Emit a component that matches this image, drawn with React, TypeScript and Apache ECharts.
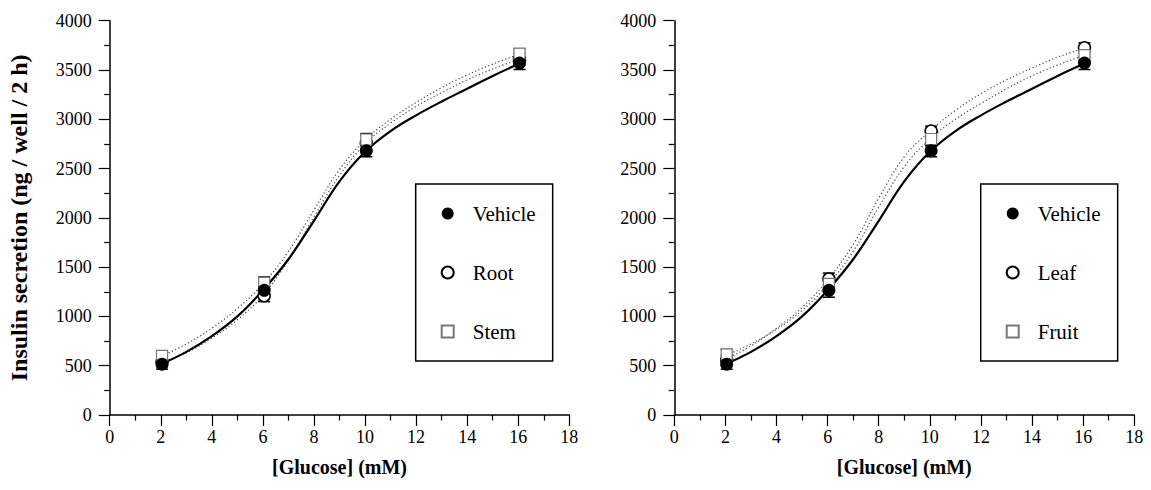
import React, { useEffect, useRef } from "react";
import * as echarts from "echarts";

// Measured glucose concentrations (mM)
const doseX = [2.05, 6.05, 10.05, 16.05];

// Mean insulin secretion (ng / well / 2 h)
const vehicle = [515, 1265, 2680, 3570];
const root = [540, 1210, 2760, 3610];
const stem = [600, 1340, 2795, 3665];
const leaf = [560, 1380, 2880, 3725];
const fruit = [615, 1330, 2800, 3650];

// SEM
const vehicleErr = [50, 70, 60, 65];
const rootErr = [50, 60, 80, 60];
const stemErr = [40, 60, 60, 50];
const leafErr = [50, 60, 50, 50];
const fruitErr = [50, 50, 70, 60];

// Fitted curves
const curveX = [2.05, 3, 4, 5, 6, 7, 8, 9, 10, 11, 12, 13, 14, 15, 16.05];
const vehicleFit = [520, 640, 800, 1000, 1265, 1580, 1970, 2370, 2670, 2880, 3040, 3180, 3310, 3440, 3565];
const rootFit = [540, 630, 780, 965, 1215, 1570, 2010, 2430, 2750, 2960, 3130, 3270, 3400, 3510, 3610];
const stemFit = [600, 720, 880, 1080, 1330, 1660, 2080, 2490, 2790, 3000, 3170, 3320, 3450, 3560, 3660];
const leafFit = [570, 700, 880, 1090, 1370, 1730, 2200, 2620, 2880, 3090, 3260, 3400, 3520, 3630, 3720];
const fruitFit = [610, 720, 870, 1060, 1320, 1660, 2110, 2520, 2800, 3000, 3160, 3310, 3440, 3550, 3650];

// Axis ticks
const xMin = 0, xMax = 18, xStep = 2;
const yMin = 0, yMax = 4000, yStep = 500;

const FONT = "Liberation Serif";

const pairs = (xs: number[], ys: number[]) => xs.map((x, i) => [x, ys[i]]);
const errs = (xs: number[], ys: number[], es: number[]) =>
  xs.map((x, i) => [x, ys[i] - es[i], ys[i] + es[i]]);

const solidStyle = { color: "#000", width: 2.2, type: "solid" as const };
const dotStyle = { color: "#444", width: 1.2, type: [1.2, 2.4] as any };

const markerStyles: Record<string, any> = {
  filled: { symbol: "circle", symbolSize: 13, itemStyle: { color: "#000", borderColor: "#000", borderWidth: 0, opacity: 1 } },
  open: { symbol: "circle", symbolSize: 12, itemStyle: { color: "#fff", borderColor: "#000", borderWidth: 1.5, opacity: 1 } },
  square: { symbol: "rect", symbolSize: 11, itemStyle: { color: "#fff", borderColor: "#777", borderWidth: 1.2, opacity: 1 } },
};

function App() {
  const ref = useRef<HTMLDivElement>(null);
  useEffect(() => {
    if (!ref.current) return;
    const chart = echarts.init(ref.current, null, { renderer: "svg" });

    const fitSeries = (name: string, ys: number[], idx: number, style: any) => ({
      type: "line",
      name,
      xAxisIndex: idx,
      yAxisIndex: idx,
      data: pairs(curveX, ys),
      smooth: 0.4,
      showSymbol: false,
      symbol: "none",
      lineStyle: style,
      z: 1,
      silent: true,
    });

    const errSeries = (ys: number[], es: number[], idx: number) => ({
      type: "custom",
      xAxisIndex: idx,
      yAxisIndex: idx,
      data: errs(doseX, ys, es),
      z: 2,
      silent: true,
      renderItem: (params: any, api: any) => {
        const x = api.value(0);
        const lo = api.coord([x, api.value(1)]);
        const hi = api.coord([x, api.value(2)]);
        const w = 6;
        const st = { stroke: "#000", lineWidth: 1.5 };
        return {
          type: "group",
          children: [
            { type: "line", shape: { x1: lo[0], y1: lo[1], x2: hi[0], y2: hi[1] }, style: st },
            { type: "line", shape: { x1: lo[0] - w, y1: lo[1], x2: lo[0] + w, y2: lo[1] }, style: st },
            { type: "line", shape: { x1: hi[0] - w, y1: hi[1], x2: hi[0] + w, y2: hi[1] }, style: st },
          ],
        };
      },
    });

    const pointSeries = (name: string, ys: number[], idx: number, kind: string, z: number) => ({
      type: "scatter",
      name,
      xAxisIndex: idx,
      yAxisIndex: idx,
      data: pairs(doseX, ys),
      ...markerStyles[kind],
      z,
    });

    const xAxis = (gridIndex: number) => ({
      type: "value",
      gridIndex,
      min: xMin,
      max: xMax,
      interval: xStep,
      name: "[Glucose] (mM)",
      nameLocation: "middle",
      nameGap: 42,
      nameTextStyle: { fontFamily: FONT, fontSize: 20, fontWeight: "bold", color: "#000" },
      axisLine: { show: true, onZero: false, lineStyle: { color: "#000", width: 1.5 } },
      axisTick: { show: true, inside: false, length: 11, lineStyle: { color: "#000", width: 1.2 } },
      minorTick: { show: true, splitNumber: 2, length: 5.5, lineStyle: { color: "#000", width: 1.2 } },
      axisLabel: { fontFamily: FONT, fontSize: 18, color: "#000", margin: 13, formatter: (v: number) => String(v) },
      splitLine: { show: false },
    });

    const yAxis = (gridIndex: number, withName: boolean) => ({
      type: "value",
      gridIndex,
      min: yMin,
      max: yMax,
      interval: yStep,
      name: withName ? "Insulin secretion (ng / well / 2 h)" : "",
      nameLocation: "middle",
      nameGap: 79,
      nameTextStyle: { fontFamily: FONT, fontSize: 24, fontWeight: "bold", color: "#000" },
      axisLine: { show: true, onZero: false, lineStyle: { color: "#000", width: 1.5 } },
      axisTick: { show: true, inside: false, length: 11, lineStyle: { color: "#000", width: 1.2 } },
      minorTick: { show: true, splitNumber: 2, length: 5.5, lineStyle: { color: "#000", width: 1.2 } },
      axisLabel: { fontFamily: FONT, fontSize: 18, color: "#000", margin: 18, formatter: (v: number) => String(v) },
      splitLine: { show: false },
    });

    const legend = (left: number, names: string[]) => ({
      orient: "vertical",
      left,
      top: 184,
      data: names,
      itemWidth: 12,
      itemHeight: 12,
      itemGap: 38,
      padding: [19, 17, 19, 25],
      borderColor: "#000",
      borderWidth: 1.5,
      borderRadius: 0,
      backgroundColor: "#fff",
      selectedMode: false,
      textStyle: { fontFamily: FONT, fontSize: 21, color: "#000", lineHeight: 21, padding: [0, 0, 0, 14] },
    });

    chart.setOption({
      animation: false,
      backgroundColor: "#fff",
      textStyle: { fontFamily: FONT },
      grid: [
        { left: 109.7, top: 20.7, width: 459.6, height: 394.3 },
        { left: 674.3, top: 20.7, width: 460, height: 394.3 },
      ],
      xAxis: [xAxis(0), xAxis(1)],
      yAxis: [yAxis(0, true), yAxis(1, false)],
      legend: [legend(415.7, ["Vehicle", "Root", "Stem"]), legend(980.7, ["Vehicle", "Leaf", "Fruit"])],
      series: [
        fitSeries("Root fit", rootFit, 0, dotStyle),
        fitSeries("Stem fit", stemFit, 0, dotStyle),
        fitSeries("Vehicle fit", vehicleFit, 0, solidStyle),
        errSeries(root, rootErr, 0),
        errSeries(stem, stemErr, 0),
        errSeries(vehicle, vehicleErr, 0),
        pointSeries("Root", root, 0, "open", 3),
        pointSeries("Stem", stem, 0, "square", 3),
        pointSeries("Vehicle", vehicle, 0, "filled", 4),

        fitSeries("Leaf fit", leafFit, 1, dotStyle),
        fitSeries("Fruit fit", fruitFit, 1, dotStyle),
        fitSeries("Vehicle fit 2", vehicleFit, 1, solidStyle),
        errSeries(leaf, leafErr, 1),
        errSeries(fruit, fruitErr, 1),
        errSeries(vehicle, vehicleErr, 1),
        pointSeries("Leaf", leaf, 1, "open", 3),
        pointSeries("Fruit", fruit, 1, "square", 3),
        pointSeries("Vehicle", vehicle, 1, "filled", 4),
      ],
    });
    return () => chart.dispose();
  }, []);
  return (
    <div
      ref={ref}
      style={{ position: "fixed", left: 0, top: 0, width: 1151, height: 490, background: "#fff" }}
    />
  );
}

export default App;
